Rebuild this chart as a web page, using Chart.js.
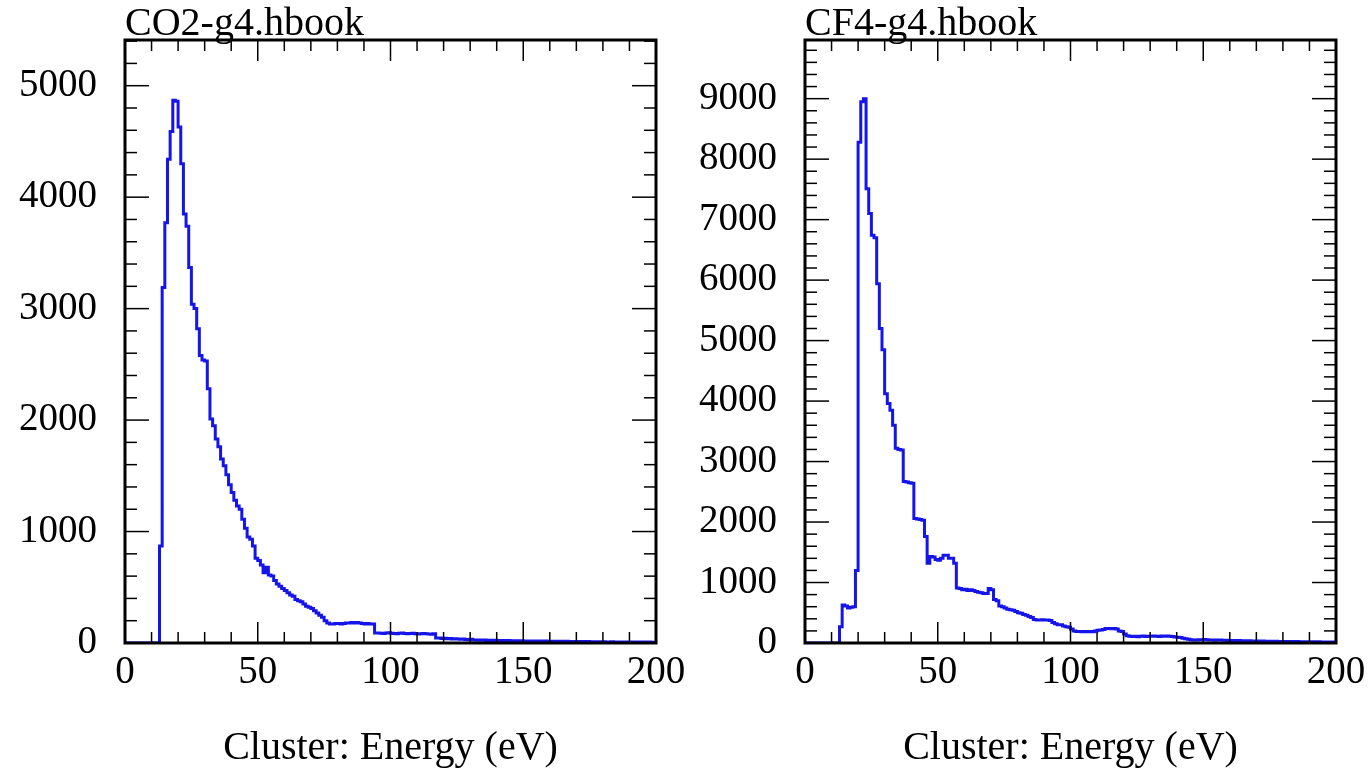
<!DOCTYPE html>
<html>
<head>
<meta charset="utf-8">
<title>Cluster energy</title>
<script src="https://cdn.jsdelivr.net/npm/chart.js@4/dist/chart.umd.min.js"></script>
<style>
  body { margin: 0; background: #fff; }
  #wrap { display: flex; width: 1370px; height: 772px; }
  canvas { display: block; }
</style>
</head>
<body>
<div id="wrap">
  <canvas id="co2Chart" width="685" height="772"></canvas>
  <canvas id="cf4Chart" width="685" height="772"></canvas>
</div>
<script>
// histogram binning (eV)
const binStart = 0;
const binWidth = 1;

const xTickLabels = [0, 50, 100, 150, 200];
const co2YTicks = [0, 1000, 2000, 3000, 4000, 5000];
const cf4YTicks = [0, 1000, 2000, 3000, 4000, 5000, 6000, 7000, 8000, 9000];

const co2Title = 'CO2-g4.hbook';
const cf4Title = 'CF4-g4.hbook';
const xTitle = 'Cluster: Energy (eV)';

// counts per 1 eV bin, 0..199
const co2Counts = [
  0, 0, 0, 0, 0, 0, 0, 0, 0, 0,
  0, 0, 0, 870, 3190, 3770, 4340, 4590, 4870, 4860,
  4630, 4300, 3850, 3740, 3370, 3040, 3000, 2820, 2580, 2540,
  2530, 2280, 2010, 1950, 1830, 1760, 1650, 1590, 1510, 1420,
  1350, 1280, 1230, 1200, 1110, 1030, 950, 930, 870, 760,
  740, 700, 630, 680, 610, 600, 560, 530, 510, 490,
  470, 450, 430, 420, 390, 380, 370, 350, 330, 320,
  310, 290, 270, 250, 230, 200, 180, 170, 170, 175,
  175, 170, 175, 180, 180, 185, 180, 185, 180, 175,
  170, 175, 170, 170, 90, 90, 88, 85, 90, 92,
  88, 85, 84, 88, 90, 86, 82, 85, 88, 84,
  80, 83, 86, 82, 80, 78, 82, 45, 44, 40,
  42, 38, 40, 36, 38, 35, 34, 36, 32, 30,
  33, 26, 25, 27, 24, 26, 23, 25, 22, 24,
  21, 23, 22, 20, 22, 19, 21, 20, 18, 20,
  19, 17, 19, 18, 16, 18, 17, 15, 17, 16,
  15, 16, 14, 16, 15, 13, 15, 14, 12, 14,
  13, 12, 13, 11, 13, 12, 10, 12, 11, 10,
  11, 10, 9, 11, 10, 9, 10, 8, 9, 10,
  8, 9, 8, 7, 9, 8, 7, 8, 6, 7
];

const cf4Counts = [
  0, 0, 0, 0, 0, 0, 0, 0, 0, 0,
  0, 0, 0, 270, 630, 610, 580, 590, 600, 1200,
  8280, 8950, 9000, 7510, 7100, 6740, 6700, 5940, 5200, 4850,
  4120, 3960, 3850, 3600, 3220, 3200, 3190, 2670, 2660, 2650,
  2640, 2060, 2050, 2040, 2030, 1760, 1320, 1430, 1420, 1380,
  1370, 1400, 1450, 1450, 1400, 1400, 1320, 910, 900, 880,
  890, 870, 880, 870, 850, 840, 830, 820, 820, 900,
  880, 720, 700, 610, 600, 580, 560, 550, 540, 520,
  500, 490, 470, 460, 440, 420, 390, 380, 380, 385,
  380, 380, 370, 340, 320, 300, 300, 280, 270, 260,
  230, 200, 190, 190, 185, 190, 185, 190, 185, 200,
  210, 215, 225, 240, 240, 235, 240, 230, 200, 190,
  150, 120, 110, 108, 112, 105, 110, 115, 108, 112,
  110, 115, 112, 108, 114, 110, 115, 112, 108, 100,
  95, 90, 80, 70, 60, 52, 50, 48, 52, 55,
  58, 55, 50, 48, 45, 48, 50, 46, 44, 42,
  40, 42, 38, 40, 36, 38, 35, 37, 34, 32,
  33, 30, 32, 29, 30, 28, 27, 29, 26, 25,
  26, 24, 25, 23, 22, 24, 21, 22, 20, 21,
  19, 20, 18, 19, 17, 18, 16, 17, 15, 14
];

const lineColor = 'rgb(20, 20, 235)';
const serif = '"Liberation Serif", "DejaVu Serif", serif';

// turn bin counts into the outline of a histogram (flat top per bin)
function histPoints(counts) {
  const pts = [];
  counts.forEach((c, i) => {
    const lo = binStart + i * binWidth;
    pts.push({ x: lo, y: c }, { x: lo + binWidth, y: c });
  });
  return pts;
}

// fixed tick list: every `step` from min up to max
function fixedTicks(step) {
  return scale => {
    const ticks = [];
    for (let v = scale.min; v <= scale.max; v += step) ticks.push({ value: v });
    scale.ticks = ticks;
  };
}

// no extra room for the end labels, the frame sits where it sits
function noLabelPadding(s) {
  s.paddingTop = 0;
  s.paddingBottom = 0;
  s.paddingLeft = 0;
  s.paddingRight = 0;
}

// frame, inward ticks on all sides, title and x axis title (HBOOK style)
const histFrame = {
  id: 'histFrame',
  afterDraw(chart, args, opts) {
    const { ctx, chartArea: a } = chart;
    const x = chart.scales.x;
    const y = chart.scales.y;
    const seg = (x1, y1, x2, y2) => {
      ctx.beginPath();
      ctx.moveTo(x1, y1);
      ctx.lineTo(x2, y2);
      ctx.stroke();
    };

    ctx.save();
    ctx.strokeStyle = '#000';
    ctx.lineWidth = 1.5;

    x.ticks.forEach(t => {
      const px = x.getPixelForValue(t.value);
      const len = t.value % 50 === 0 ? 21 : 11;
      seg(px, a.bottom, px, a.bottom - len);
      seg(px, a.top, px, a.top + len);
    });

    y.ticks.forEach(t => {
      const py = y.getPixelForValue(t.value);
      const len = t.value % 1000 === 0 ? 24 : 12;
      seg(a.left, py, a.left + len, py);
      seg(a.right, py, a.right - len, py);
    });

    ctx.lineWidth = 3;
    ctx.strokeRect(a.left, a.top, a.right - a.left, a.bottom - a.top);

    ctx.fillStyle = '#000';
    ctx.font = '40px ' + serif;
    ctx.textAlign = 'left';
    ctx.textBaseline = 'alphabetic';
    ctx.fillText(opts.title, a.left, a.top - 5);

    ctx.textAlign = 'center';
    ctx.textBaseline = 'middle';
    ctx.fillText(opts.xTitle, (a.left + a.right) / 2, a.bottom + 105);
    ctx.restore();
  }
};

function makeChart(canvasId, counts, yMax, yTicks, title, yAxisWidth, rightPad) {
  const ctx = document.getElementById(canvasId).getContext('2d');
  return new Chart(ctx, {
    type: 'line',
    data: {
      datasets: [{
        data: histPoints(counts),
        borderColor: lineColor,
        borderWidth: 3,
        pointRadius: 0,
        fill: false,
        tension: 0
      }]
    },
    options: {
      responsive: false,
      animation: false,
      devicePixelRatio: 1,
      layout: { padding: { top: 40, right: rightPad, left: 0, bottom: 0 } },
      plugins: {
        legend: { display: false },
        tooltip: { enabled: false },
        histFrame: { title: title, xTitle: xTitle }
      },
      scales: {
        x: {
          type: 'linear',
          min: xTickLabels[0],
          max: xTickLabels[xTickLabels.length - 1],
          grid: { display: false, drawTicks: false },
          border: { display: false },
          afterBuildTicks: fixedTicks(10),
          afterFit: s => { s.height = 129; noLabelPadding(s); },
          ticks: {
            autoSkip: false,
            maxRotation: 0,
            padding: 6,
            color: '#000',
            font: { family: serif, size: 39 },
            callback: v => (xTickLabels.includes(v) ? String(v) : '')
          }
        },
        y: {
          type: 'linear',
          min: 0,
          max: yMax,
          grid: { display: false, drawTicks: false },
          border: { display: false },
          afterBuildTicks: fixedTicks(200),
          afterFit: s => { s.width = yAxisWidth; noLabelPadding(s); },
          ticks: {
            autoSkip: false,
            padding: 28,
            color: '#000',
            font: { family: serif, size: 39 },
            callback: v => (yTicks.includes(v) ? String(v) : '')
          }
        }
      }
    },
    plugins: [histFrame]
  });
}

makeChart('co2Chart', co2Counts, 5410, co2YTicks, co2Title, 125, 29);
makeChart('cf4Chart', cf4Counts, 9970, cf4YTicks, cf4Title, 120, 34);
</script>
</body>
</html>
